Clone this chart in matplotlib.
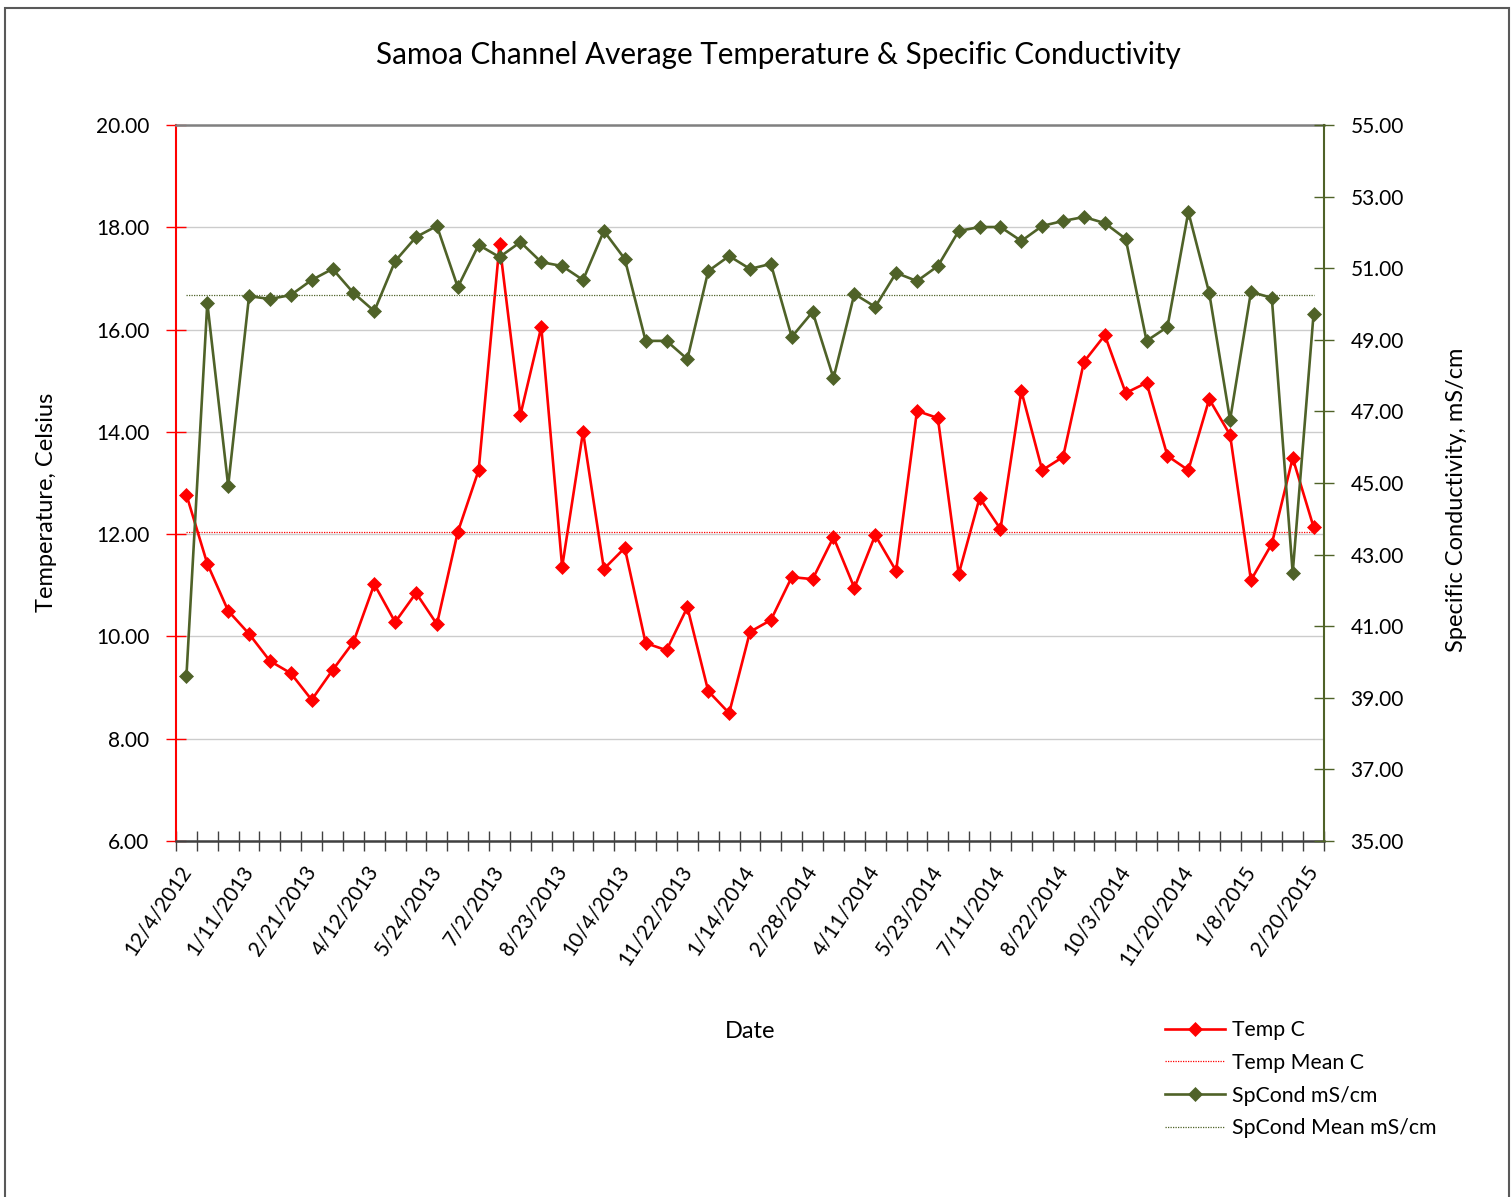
import numpy as np
import matplotlib.pyplot as plt
from matplotlib.patches import Rectangle
from matplotlib.ticker import FormatStrFormatter

plt.rcParams['font.family'] = ['Lato', 'DejaVu Sans']

# Dados (55 amostras, rotulo a cada 3)
temp_c = [12.77, 11.42, 10.50, 10.05, 9.52, 9.28, 8.76, 9.34, 9.89, 11.02,
          10.28, 10.85, 10.24, 12.04, 13.25, 17.67, 14.33, 16.05, 11.36, 14.00,
          11.32, 11.73, 9.87, 9.73, 10.57, 8.93, 8.50, 10.09, 10.32, 11.16,
          11.12, 11.94, 10.95, 11.98, 11.28, 14.41, 14.27, 11.22, 12.71, 12.10,
          14.80, 13.25, 13.51, 15.37, 15.89, 14.76, 14.96, 13.53, 13.25, 14.64,
          13.94, 11.10, 11.81, 13.49, 12.14]
spcond = [39.61, 50.03, 44.92, 50.22, 50.14, 50.25, 50.67, 50.98, 50.31, 49.80,
          51.20, 51.87, 52.18, 50.47, 51.65, 51.31, 51.73, 51.17, 51.06, 50.67,
          52.04, 51.26, 48.97, 48.97, 48.46, 50.92, 51.34, 50.98, 51.12, 49.08,
          49.78, 47.93, 50.28, 49.92, 50.87, 50.64, 51.06, 52.04, 52.15, 52.15,
          51.76, 52.18, 52.32, 52.43, 52.26, 51.82, 48.97, 49.36, 52.57, 50.31,
          46.76, 50.34, 50.17, 42.49, 49.72]
temp_mean = 12.05
spcond_mean = 50.25
date_labels = ['12/4/2012', '1/11/2013', '2/21/2013', '4/12/2013', '5/24/2013',
               '7/2/2013', '8/23/2013', '10/4/2013', '11/22/2013', '1/14/2014',
               '2/28/2014', '4/11/2014', '5/23/2014', '7/11/2014', '8/22/2014',
               '10/3/2014', '11/20/2014', '1/8/2015', '2/20/2015']
label_step = 3

RED = '#ff0000'
GREEN = '#4f6228'
FS = 15          # rotulos dos eixos
FS_TITLE = 17    # titulos dos eixos

W, H = 1511, 1197
fig = plt.figure(figsize=(W / 100, H / 100), dpi=100)
ax = fig.add_axes([176 / W, 1 - 841 / H, 1148 / W, 716 / H])
ax2 = ax.twinx()

n = len(temp_c)
x = np.arange(n)

# Serie primaria
l1, = ax.plot(x, temp_c, color=RED, lw=1.9, marker='D', ms=7, mew=0.5, zorder=3)
l2, = ax.plot(x, np.full(n, temp_mean), color=RED, lw=0.9, ls=(0, (1, 1)), zorder=2)
# Serie secundaria
l3, = ax2.plot(x, spcond, color=GREEN, lw=1.9, marker='D', ms=7, mew=0.5, zorder=3)
l4, = ax2.plot(x, np.full(n, spcond_mean), color=GREEN, lw=0.9, ls=(0, (1, 1)), zorder=2)

ax.set_xlim(-0.5, n - 0.5)
ax.set_ylim(6, 20)
ax.set_yticks(np.arange(6, 20.1, 2))
ax.yaxis.set_major_formatter(FormatStrFormatter('%.2f'))
ax2.set_ylim(35, 55)
ax2.set_yticks(np.arange(35, 55.1, 2))
ax2.yaxis.set_major_formatter(FormatStrFormatter('%.2f'))

ax.grid(axis='y', color='#cccccc', lw=1)
ax.set_axisbelow(True)

# Eixo X: marcas nas fronteiras, rotulos a cada 3 categorias
ax.set_xticks(np.arange(-0.5, n, 1))
ax.tick_params(axis='x', which='major', labelbottom=False, direction='inout',
               length=14, width=1, color='#404040')
lab_pos = x[::label_step]
ax.set_xticks(lab_pos, date_labels, minor=True)
ax.tick_params(axis='x', which='minor', length=0, pad=19, labelsize=FS)
for t in ax.get_xticklabels(minor=True):
    t.set_rotation(56)
    t.set_ha('right')
    t.set_va('center')
    t.set_rotation_mode('anchor')

ax.tick_params(axis='y', direction='inout', length=14, width=1, color=RED,
               labelsize=FS, pad=12)
ax2.tick_params(axis='y', direction='inout', length=14, width=1, color=GREEN,
                labelsize=FS, pad=12)

for s in ['top', 'bottom', 'left', 'right']:
    ax2.spines[s].set_visible(s == 'right')
ax.spines['right'].set_visible(False)
ax.spines['left'].set_color(RED)
ax.spines['left'].set_linewidth(1.5)
ax.spines['top'].set_color('#808080')
ax.spines['top'].set_linewidth(1.8)
ax.spines['bottom'].set_color('#404040')
ax.spines['bottom'].set_linewidth(1.8)
ax2.spines['right'].set_color(GREEN)
ax2.spines['right'].set_linewidth(1.5)

ax.set_ylabel('Temperature, Celsius', fontsize=FS_TITLE)
ax.yaxis.set_label_coords(-0.1037, 0.473)
ax2.set_ylabel('Specific Conductivity, mS/cm', fontsize=FS_TITLE)
ax2.yaxis.set_label_coords(1.106, 0.476)
ax.set_xlabel('Date', fontsize=FS_TITLE)
ax.xaxis.set_label_coords(0.5, -0.252)

fig.text(778 / W, 1 - 55 / H, 'Samoa Channel Average Temperature & Specific Conductivity',
         ha='center', va='center', fontsize=21.3)

fig.legend([l1, l2, l3, l4],
           ['Temp C', 'Temp Mean C', 'SpCond mS/cm', 'SpCond Mean mS/cm'],
           loc='upper left', bbox_to_anchor=(1165 / W, 1 - 1020 / H),
           frameon=False, fontsize=15.3, handlelength=2.83, handletextpad=0.3,
           labelspacing=0.6, borderpad=0, borderaxespad=0, numpoints=1)

# Borda da area do grafico
fig.patches.append(Rectangle((4.5 / W, -0.02), (1509 - 4.5) / W, 1.02 - 8 / H,
                             transform=fig.transFigure, fill=False,
                             edgecolor='#595959', lw=1.5))

fig.savefig('out.png', dpi=100)
